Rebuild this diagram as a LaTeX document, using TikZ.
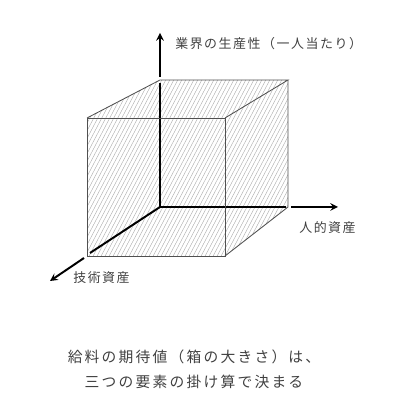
\documentclass[tikz,border=0pt]{standalone}
\usepackage{fontspec}
\newfontfamily\jpfont{Noto Sans CJK JP}
\usetikzlibrary{arrows}
\definecolor{edgegray}{HTML}{505050}
\definecolor{textgray}{HTML}{404040}
\tikzstyle{edge} = [draw=edgegray, line width=0.6pt, line join=miter]
\tikzstyle{hatch} = [draw=black!32, line width=0.3pt]
\tikzstyle{axis} = [line width=1.4pt, ->, >=stealth]
\tikzstyle{axisline} = [line width=1.4pt]
\tikzstyle{label} = [inner sep=0pt, text=textgray, font=\jpfont\fontsize{9.2pt}{11pt}\selectfont\addfontfeature{LetterSpace=12}]
\tikzstyle{caption} = [inner sep=0pt, text=textgray, font=\jpfont\fontsize{10.5pt}{12pt}\selectfont\addfontfeature{LetterSpace=15}]

\begin{document}
\begin{tikzpicture}[x=0.025cm, y=-0.025cm]

    \useasboundingbox (0,0) rectangle (410,405);

    % cube corners
    \coordinate (ftl) at (87,118);
    \coordinate (ftr) at (225,118);
    \coordinate (fbl) at (87,256);
    \coordinate (fbr) at (225,256);
    \coordinate (btl) at (160,80);
    \coordinate (btr) at (288,80);
    \coordinate (bbr) at (288,207);
    \coordinate (origin) at (160,207);

    % hatching
    \begin{scope}
        \clip (ftl) -- (btl) -- (btr) -- (bbr) -- (fbr) -- (fbl) -- cycle;
        \foreach \i in {-30,-26,...,300}
            \draw [hatch] (\i,262) -- ++(100,-190);
    \end{scope}

    % axes
    \coordinate (ytop) at (160,33);
    \coordinate (xend) at (338,207);
    \coordinate (zend) at (50,281);
    \draw [axisline] (origin) -- (160,83);
    \draw [axis] (160,77) -- (ytop);
    \draw [axisline] (origin) -- (286,207);
    \draw [axis] (291,207) -- (xend);
    \draw [axisline] (origin) -- (90,253);
    \draw [axis] (84,258) -- (zend);

    % cube edges
    \draw [edge] (ftl) rectangle (fbr);
    \draw [edge] (ftl) -- (btl) -- (btr) -- (ftr);
    \draw [edge] (btr) -- (bbr) -- (fbr);

    % labels
    \node (prod) [label, anchor=west] at (175,44) {業界の生産性（一人当たり）};
    \node (human) [label, anchor=west] at (299,228) {人的資産};
    \node (tech) [label, anchor=west] at (73,278) {技術資産};

    \node (cap1) [caption] at (194,357) {給料の期待値（箱の大きさ）は、};
    \node (cap2) [caption] at (194,382) {三つの要素の掛け算で決まる};

\end{tikzpicture}
\end{document}
